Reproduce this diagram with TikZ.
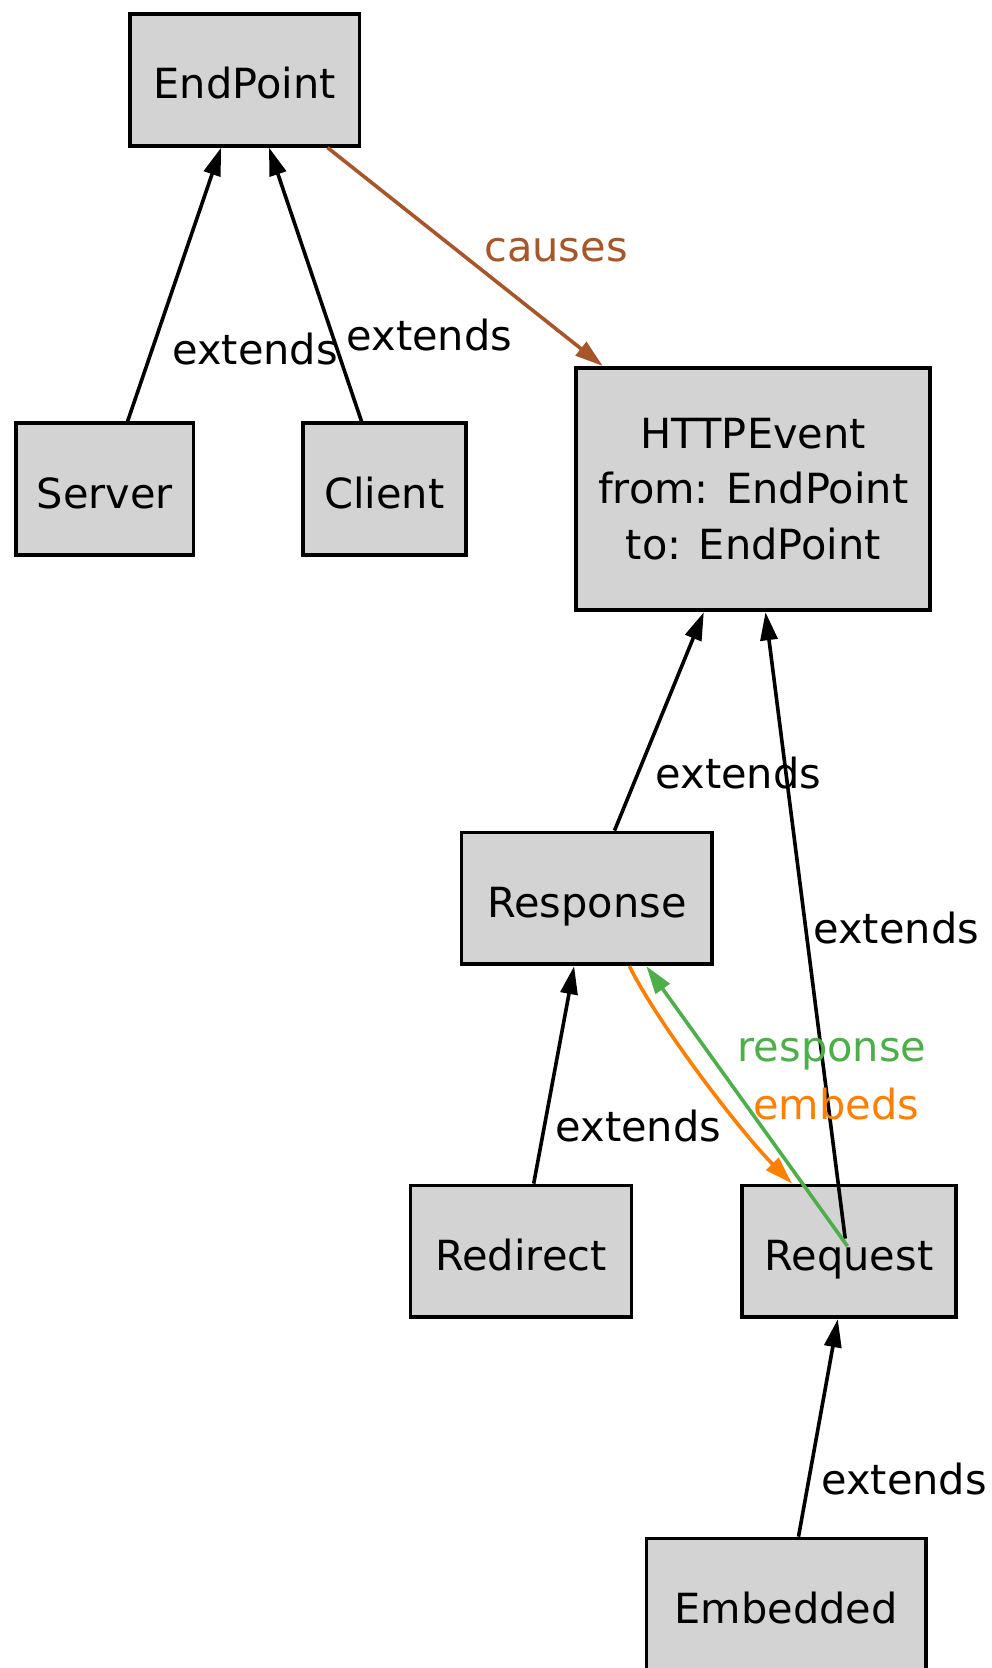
\documentclass[tikz,border=0pt]{standalone}
\usepackage{fontspec}
\setmainfont{DejaVu Sans}
\usetikzlibrary{arrows.meta,calc}
\definecolor{boxfill}{RGB}{211,211,211}
\definecolor{causesc}{HTML}{A65628}
\definecolor{embedc}{HTML}{FF7F00}
\definecolor{respc}{HTML}{4DAF4A}
\begin{document}
\begin{tikzpicture}[x=1pt,y=-1pt,
  every node/.style={font=\fontsize{41.5}{55.3}\selectfont},
  cls/.style={draw, line width=3.8pt, fill=boxfill, rectangle, inner sep=0pt,
    minimum height=131.8pt, text height=38.2pt, text depth=0pt},
  lbl/.style={anchor=base, inner sep=0pt},
  tip/.style={-{Triangle[length=28pt,width=17pt]}, line width=3.6pt}]
\useasboundingbox (0,0) rectangle (992,1668);
% classes
\node[cls, minimum width=229.7pt] (endpoint) at (244.6,79.8) {EndPoint};
\node[cls, minimum width=177.6pt] (server) at (104.7,489.1) {Server};
\node[cls, minimum width=162.7pt] (client) at (384.4,489.1) {Client};
\node[cls, minimum width=354pt, minimum height=242.4pt, align=center,
      text height=, text depth=] (http) at (753.3,489.1)
      {HTTPEvent\\from: EndPoint\\to: EndPoint};
\node[cls, minimum width=250.9pt] (response) at (586.9,898.4) {Response};
\node[cls, minimum width=221.1pt] (redirect) at (521,1251.4) {Redirect};
\node[cls, minimum width=213.7pt] (request) at (849,1251.4) {Request};
\node[cls, minimum width=279.6pt] (embedded) at (786.2,1604.4) {Embedded};
% connectors
\draw[tip] ([xshift=22.9pt]server.north) -- ([xshift=-23.5pt]endpoint.south);
\draw[tip] ([xshift=-22.9pt]client.north) -- ([xshift=24.4pt]endpoint.south);
\draw[tip, causesc] ([xshift=82.9pt]endpoint.south) -- ([xshift=-150.5pt]http.north);
\draw[tip] ([xshift=27.6pt]response.north) -- ([xshift=-49.5pt]http.south);
\draw[tip] ($(request.center)+(-3.8,-12.8)$) -- ([xshift=12.2pt]http.south);
\draw[tip] ([xshift=12.7pt]redirect.north) -- ([xshift=-12.8pt]response.south);
\draw[tip, embedc] ([xshift=42.5pt]response.south) .. controls +(30,60) and +(-50,-50) .. ([xshift=-56.9pt]request.north);
\draw[tip, respc] ($(request.center)+(-1.6,-5.3)$) -- ([xshift=59.5pt]response.south);
\draw[tip] ([xshift=12.3pt]embedded.north) -- ([xshift=-11.2pt]request.south);
% labels
\node[lbl] (l1) at (255.2,364.7) {extends};
\node[lbl] (l2) at (429.5,350.9) {extends};
\node[lbl, text=causesc] (l3) at (556,261.5) {causes};
\node[lbl] (l4) at (738.4,788.9) {extends};
\node[lbl] (l5) at (896.3,943) {extends};
\node[lbl] (l6) at (638.5,1141.9) {extends};
\node[lbl, text=respc] (l7) at (832,1061.1) {response};
\node[lbl, text=embedc] (l8) at (836.2,1119.5) {embeds};
\node[lbl] (l9) at (904.2,1494.8) {extends};
\end{tikzpicture}
\end{document}
